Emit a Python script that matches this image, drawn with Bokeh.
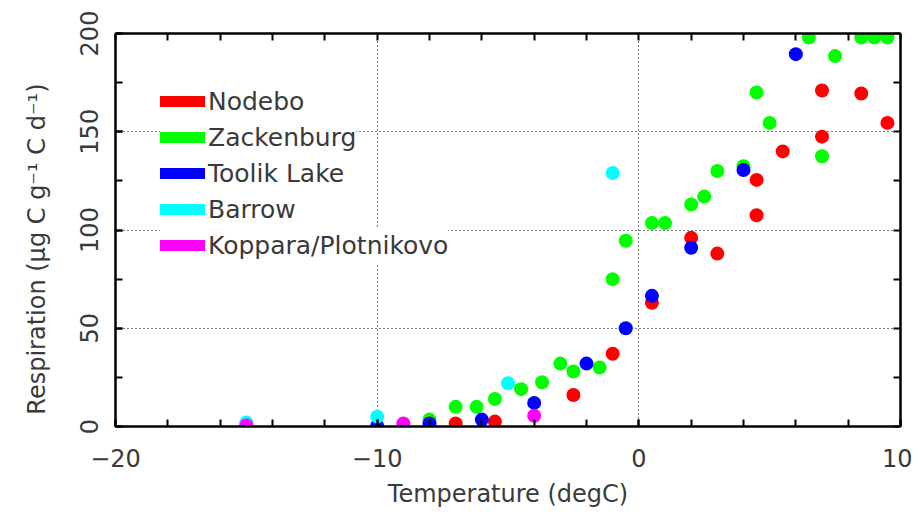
from bokeh.plotting import figure
from bokeh.models import (Range1d, LinearAxis, SingleIntervalTicker, FixedTicker,
                          Legend, LegendItem, ColumnDataSource)
from bokeh.embed import file_html
from bokeh.resources import INLINE

# ---------------- data ----------------
nodebo_t = [-7, -5.5, -2.5, -1, 0.5, 2, 3, 4.5, 4.5, 5.5, 7, 7, 8.5, 9.5]
nodebo_r = [1.5, 2.5, 16, 37, 63, 96, 88, 107.5, 125.5, 140, 147.5, 171, 169.5, 154.5]

zack_t = [-8, -7, -6.2, -5.5, -4.5, -3.7, -3, -2.5, -1.5, -1, -0.5, 0.5, 1, 2, 2.5,
          3, 4, 4.5, 5, 6.5, 7, 7.5, 8.5, 9, 9.5]
zack_r = [3.5, 10, 10, 14, 19, 22.5, 32, 28, 30, 75, 94.5, 103.5, 103.5, 113, 117,
          130, 132.5, 170, 154.5, 198, 137.5, 188.5, 198, 198, 198]

toolik_t = [-10, -8, -6, -4, -2, -0.5, 0.5, 2, 4, 6]
toolik_r = [0.3, 1.5, 3.5, 12, 32, 50, 66.5, 91, 130.5, 189.5]

barrow_t = [-15, -10, -5, -1]
barrow_r = [2, 5, 22, 129]

koppara_t = [-15, -9, -4]
koppara_r = [0.5, 1.5, 5.5]

series_names = ["Nodebo", "Zackenburg", "Toolik Lake", "Barrow", "Koppara/Plotnikovo"]
series_colors = ["#ff0000", "#00ff00", "#0000ff", "#00ffff", "#ff00ff"]
series_t = [nodebo_t, zack_t, toolik_t, barrow_t, koppara_t]
series_r = [nodebo_r, zack_r, toolik_r, barrow_r, koppara_r]

x_ticks_major = 10
y_ticks_major = 50

FONT = "DejaVu Sans"
TXT = "#3a3a3a"
NAN = float("nan")

# ---------------- figure ----------------
p = figure(width=912, height=510, output_backend="svg", toolbar_location=None,
           x_range=Range1d(-20, 10), y_range=Range1d(0, 200),
           min_border_left=115, min_border_right=12, min_border_top=33,
           min_border_bottom=77)
p.outline_line_color = None
p.background_fill_color = "white"
p.border_fill_color = "white"

xt = SingleIntervalTicker(interval=x_ticks_major, num_minor_ticks=5)
yt = SingleIntervalTicker(interval=y_ticks_major, num_minor_ticks=2)

for ax, tk in ((p.xaxis[0], xt), (p.yaxis[0], yt)):
    ax.ticker = tk
    ax.axis_line_width = 2.5
    ax.axis_line_color = "black"
    ax.major_tick_in = 7
    ax.major_tick_out = 0
    ax.minor_tick_in = 7
    ax.minor_tick_out = 0
    ax.major_tick_line_width = 2
    ax.minor_tick_line_width = 2
    ax.major_label_text_font = FONT
    ax.major_label_text_font_size = "24px"
    ax.major_label_text_color = TXT
    ax.axis_label_text_font = FONT
    ax.axis_label_text_font_size = "24px"
    ax.axis_label_text_font_style = "normal"
    ax.axis_label_text_color = TXT

p.xaxis[0].axis_label = "Temperature (degC)"
p.xaxis[0].major_label_standoff = 22
p.xaxis[0].axis_label_standoff = 10
p.yaxis[0].axis_label = "Respiration  (\u03bcg  C  g\u207b\u00b9  C  d\u207b\u00b9)"
p.yaxis[0].major_label_orientation = "vertical"
p.yaxis[0].major_label_standoff = 18
p.yaxis[0].axis_label_standoff = 26

# mirrored axes (ticks only)
top = LinearAxis(ticker=FixedTicker(ticks=[], minor_ticks=list(range(-20, 11, 2))))
right = LinearAxis(ticker=FixedTicker(ticks=[], minor_ticks=list(range(0, 201, 25))))
for ax in (top, right):
    ax.axis_line_width = 2.5
    ax.axis_line_color = "black"
    ax.minor_tick_in = 7
    ax.minor_tick_out = 0
    ax.minor_tick_line_width = 2
    ax.major_tick_in = 0
    ax.major_tick_out = 0
p.add_layout(top, "above")
p.add_layout(right, "right")

p.xgrid.ticker = xt
p.ygrid.ticker = yt
for g in (p.xgrid[0], p.ygrid[0]):
    g.grid_line_color = "black"
    g.grid_line_width = 1
    g.grid_line_dash = "1 3"

# ---------------- points ----------------
for t, r, c in zip(series_t, series_r, series_colors):
    src = ColumnDataSource(dict(t=t, r=r))
    p.scatter("t", "r", source=src, size=14, fill_color=c, line_color=None)

# ---------------- legend (one box per row) ----------------
row_h = 36
for i, (name, c) in enumerate(zip(series_names, series_colors)):
    # legend-only renderer (a single NaN point: nothing drawn in the plot)
    lr = p.line([NAN], [NAN], line_color=c, line_width=11, line_cap="round",
                line_join="round")
    leg = Legend(items=[LegendItem(label=name, renderers=[lr])],
                 location=(45, 343 - row_h * (i + 1)))
    leg.padding = 0
    leg.margin = 0
    leg.spacing = 0
    leg.glyph_width = 45
    leg.glyph_height = row_h
    leg.label_height = row_h
    leg.label_standoff = 3
    leg.label_text_font = FONT
    leg.label_text_font_size = "25px"
    leg.label_text_color = TXT
    leg.border_line_color = None
    leg.background_fill_color = "white"
    leg.background_fill_alpha = 1.0
    p.add_layout(leg, "center")

open("out.html", "w").write(file_html(p, INLINE))
